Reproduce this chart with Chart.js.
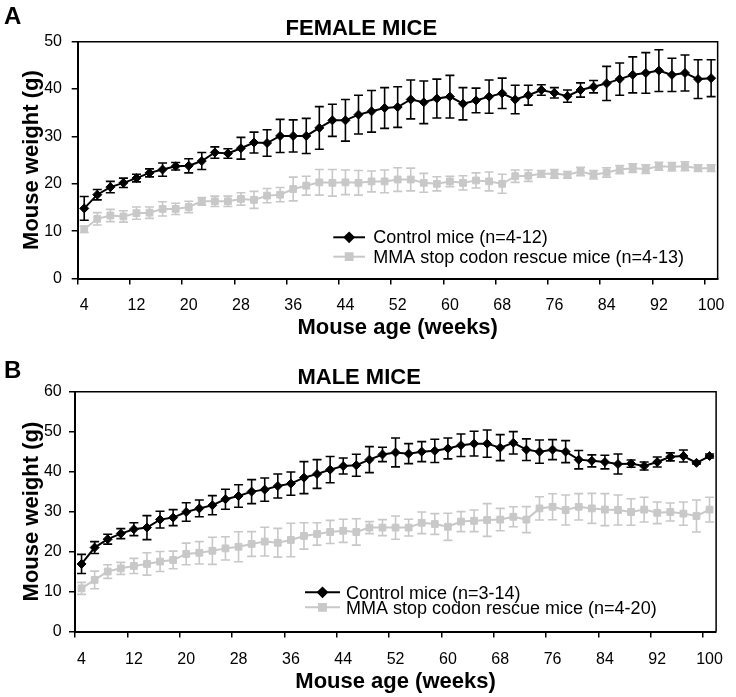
<!DOCTYPE html>
<html><head><meta charset="utf-8">
<script src="https://cdn.jsdelivr.net/npm/chart.js@4.4.1/dist/chart.umd.min.js"></script>
<style>
html,body{margin:0;padding:0;background:#fff;}
#wrap{position:relative;width:736px;height:697px;overflow:hidden;}
canvas{position:absolute;left:0;}
#chartA{top:0;}
#chartB{top:345px;}
</style></head><body>
<div id="wrap">
<canvas id="chartA" width="736" height="345"></canvas>
<canvas id="chartB" width="736" height="352"></canvas>
</div>
<script>
// ---------- data ----------
const weeks = [4,6,8,10,12,14,16,18,20,22,24,26,28,30,32,34,36,38,40,42,44,46,48,50,52,54,56,58,60,62,64,66,68,70,72,74,76,78,80,82,84,86,88,90,92,94,96,98,100];

const femaleControl = [14.8,17.7,19.3,20.2,21.2,22.3,23.0,23.7,23.8,24.8,26.6,26.4,27.5,28.7,28.6,30.1,30.1,30.1,31.8,33.4,33.4,34.6,35.3,36.0,36.2,37.8,37.2,38.0,38.4,36.9,37.6,38.4,39.1,37.8,38.7,39.8,39.2,38.5,39.8,40.5,41.2,42.1,43.0,43.4,43.9,43.0,43.4,42.1,42.3];
const femaleControlErr = [2.5,1.1,1.2,1.0,0.8,0.85,1.4,0.8,1.5,1.8,1.2,1.0,2.3,2.2,2.8,3.5,3.4,3.7,4.5,3.4,4.4,4.1,4.4,4.3,4.3,4.1,4.5,4.1,4.5,3.4,2.6,3.5,3.2,3.0,2.1,1.1,1.1,1.3,1.5,1.3,3.6,3.4,3.8,4.3,4.4,3.5,3.8,4.1,3.9];
const femaleRescue = [10.4,12.6,13.3,13.1,13.8,13.9,14.7,14.7,15.1,16.3,16.3,16.3,16.8,16.6,17.5,17.7,18.9,19.6,20.3,20.2,20.3,20.2,20.5,20.5,20.9,20.9,20.2,20.0,20.5,20.2,20.7,20.5,20.0,21.6,21.7,22.1,22.1,21.9,22.6,21.9,22.4,23.0,23.3,23.1,23.7,23.6,23.7,23.3,23.3];
const femaleRescueErr = [0.7,1.3,1.3,1.2,1.3,1.2,1.5,1.2,1.2,0.8,1.1,1.1,1.3,1.8,1.5,1.5,2.5,2.0,2.7,2.8,2.6,2.6,2.2,2.4,2.5,2.4,2.0,1.5,1.1,1.5,1.6,2.0,2.0,1.3,1.2,0.7,0.9,0.7,0.9,0.9,1.0,0.85,0.9,0.9,0.85,0.9,0.95,0.7,0.7];

const maleControl = [16.9,21.0,23.1,24.5,25.6,26.0,28.0,28.5,29.9,30.8,31.6,33.1,33.9,35.0,35.5,36.4,37.0,38.5,39.4,40.5,41.4,41.6,43.0,44.3,44.8,44.5,45.0,45.2,45.8,46.6,47.0,47.0,46.0,47.2,45.5,45.0,45.5,45.0,43.0,42.7,42.4,41.9,42.0,41.4,42.4,43.7,43.9,42.2,43.9];
const maleControlErr = [2.4,1.5,1.25,1.25,1.6,3.0,2.1,2.0,2.3,2.1,2.4,2.5,2.8,3.0,2.9,3.0,2.9,4.0,3.6,3.3,2.0,2.75,3.25,1.8,3.6,2.5,2.5,2.9,2.6,2.8,3.1,3.4,3.25,2.8,2.7,2.9,2.5,2.75,2.3,1.5,1.7,2.5,0.9,1.0,1.25,1.0,1.5,0.3,0.5];
const maleRescue = [10.8,12.9,15.0,15.8,16.4,16.9,17.5,17.9,19.4,19.7,20.2,20.8,21.2,21.9,22.5,22.2,22.9,23.9,24.4,24.9,25.2,24.9,26.0,26.0,26.0,26.0,27.2,26.9,26.2,27.5,27.7,27.9,28.0,28.7,28.0,30.8,31.2,30.4,31.2,30.8,30.5,30.4,29.9,30.5,29.7,29.9,29.5,28.9,30.5];
const maleRescueErr = [1.5,2.2,1.7,1.5,1.9,2.8,2.5,2.2,2.7,2.8,3.4,2.9,3.75,3.1,3.6,3.6,4.2,3.3,2.8,2.9,2.9,3.3,1.5,2.0,2.9,2.1,2.7,2.6,3.4,2.5,2.7,4.1,2.8,2.5,3.25,2.9,3.25,3.75,3.3,3.75,4.0,3.75,3.3,3.1,2.7,2.25,2.9,4.0,3.1];

const femaleLabels = ['Control mice (n=4-12)', 'MMA stop codon rescue mice (n=4-13)'];
const maleLabels = ['Control mice (n=3-14)', 'MMA stop codon rescue mice (n=4-20)'];
const xTitle = 'Mouse age (weeks)';
const yTitle = 'Mouse weight (g)';

// ---------- styles ----------
const FONT = "'Liberation Sans', Arial, Helvetica, sans-serif";
const BLACK = '#000000';
const GRAY = '#c8c8c8';

// ---------- plugins ----------
const errorBarPlugin = {
  id: 'errorBars',
  beforeDatasetDraw(chart, args, opts) {
    const ds = chart.data.datasets[args.index];
    if (!ds.errors) return;
    const ctx = chart.ctx, ys = chart.scales.y, cap = opts.cap || 4.5;
    ctx.save();
    ctx.strokeStyle = ds.borderColor;
    ctx.lineWidth = opts.lineWidth || 1.6;
    args.meta.data.forEach((pt, i) => {
      const e = ds.errors[i];
      if (e == null) return;
      const v = ds.data[i];
      const x = pt.x, yt = ys.getPixelForValue(v + e), yb = ys.getPixelForValue(v - e);
      ctx.beginPath();
      ctx.moveTo(x, yt); ctx.lineTo(x, yb);
      ctx.moveTo(x - cap, yt); ctx.lineTo(x + cap, yt);
      ctx.moveTo(x - cap, yb); ctx.lineTo(x + cap, yb);
      ctx.stroke();
    });
    ctx.restore();
  }
};

const framePlugin = {
  id: 'frame',
  afterDatasetsDraw(chart) {
    const {ctx, chartArea: a} = chart;
    ctx.save();
    ctx.strokeStyle = BLACK;
    ctx.lineWidth = 1.5;
    ctx.beginPath();
    ctx.moveTo(a.left, a.top); ctx.lineTo(a.right, a.top); ctx.lineTo(a.right, a.bottom);
    ctx.stroke();
    ctx.restore();
  }
};

const insideLegendPlugin = {
  id: 'insideLegend',
  afterDraw(chart, args, o) {
    const ctx = chart.ctx;
    ctx.save();
    chart.data.datasets.forEach((ds, i) => {
      const y = o.rows[i];
      ctx.strokeStyle = ds.borderColor;
      ctx.lineWidth = ds.borderWidth;
      ctx.beginPath(); ctx.moveTo(o.x0, y); ctx.lineTo(o.x1, y); ctx.stroke();
      ctx.fillStyle = ds.pointBackgroundColor;
      ctx.strokeStyle = ds.pointBorderColor;
      Chart.helpers.drawPoint(ctx, {pointStyle: ds.pointStyle, radius: ds.pointRadius, rotation: 0, borderWidth: 1}, (o.x0 + o.x1) / 2, y);
      ctx.fillStyle = BLACK;
      ctx.font = o.fontSize + 'px ' + FONT;
      ctx.textBaseline = 'middle';
      ctx.textAlign = 'left';
      ctx.fillText(ds.label, o.textX, y + o.textDy);
    });
    ctx.restore();
  }
};

const panelLetterPlugin = {
  id: 'panelLetter',
  afterDraw(chart, args, o) {
    const ctx = chart.ctx;
    ctx.save();
    ctx.fillStyle = BLACK;
    ctx.font = 'bold 24px ' + FONT;
    ctx.textBaseline = 'alphabetic';
    ctx.textAlign = 'left';
    ctx.fillText(o.text, o.x, o.y);
    ctx.restore();
  }
};

// ---------- chart factory ----------
function makePanel(id, p) {
  return new Chart(document.getElementById(id), {
    type: 'line',
    data: {
      labels: weeks,
      datasets: [
        { label: p.labels[0], data: p.ctrl, errors: p.ctrlErr,
          borderColor: BLACK, backgroundColor: BLACK, pointBackgroundColor: BLACK, pointBorderColor: BLACK,
          borderWidth: 2, pointStyle: 'rectRot', pointRadius: 4.5, pointBorderWidth: 1, tension: 0 },
        { label: p.labels[1], data: p.resc, errors: p.rescErr,
          borderColor: GRAY, backgroundColor: GRAY, pointBackgroundColor: GRAY, pointBorderColor: GRAY,
          borderWidth: 2, pointStyle: 'rect', pointRadius: 4.8, pointBorderWidth: 1, tension: 0 }
      ]
    },
    options: {
      responsive: false,
      animation: false,
      events: [],
      layout: { padding: { left: 0, right: p.padRight, top: 0, bottom: 0 } },
      plugins: {
        legend: { display: false },
        tooltip: { enabled: false },
        title: { display: true, text: p.title, color: BLACK,
                 font: { family: FONT, size: 22, weight: 'bold', lineHeight: 1 },
                 padding: { top: p.titleTop, bottom: p.titleBottom } },
        errorBars: { cap: 4.5, lineWidth: 1.6 },
        insideLegend: p.legend,
        panelLetter: p.letter
      },
      scales: {
        x: {
          type: 'category', offset: true,
          grid: { offset: true, drawOnChartArea: false, drawTicks: true, tickLength: 6, lineWidth: 1.5,
                  color: (c) => (c.index !== undefined && c.index % 4 === 0) ? BLACK : 'rgba(0,0,0,0)' },
          border: { display: true, color: BLACK, width: 2 },
          ticks: { autoSkip: false, maxRotation: 0, minRotation: 0, padding: p.xTickPad, color: BLACK,
                   font: { family: FONT, size: 16 },
                   callback: (v, i) => (i % 4 === 0 ? String(weeks[i]) : '') },
          title: { display: true, text: xTitle, color: BLACK,
                   font: { family: FONT, size: 22, weight: 'bold', lineHeight: 1.2 },
                   padding: { top: 0, bottom: p.xTitlePad } },
          afterFit: (s) => { s.height = p.xHeight; }
        },
        y: {
          min: 0, max: p.yMax,
          grid: { drawOnChartArea: false, drawTicks: true, tickLength: 6, lineWidth: 1.5, color: BLACK },
          border: { display: true, color: BLACK, width: 2 },
          ticks: { stepSize: 10, padding: p.yTickPad, color: BLACK, font: { family: FONT, size: 16 } },
          title: { display: true, text: yTitle, color: BLACK,
                   font: { family: FONT, size: 22, weight: 'bold', lineHeight: 1.2 },
                   padding: { top: p.yTitlePad, bottom: 0 } },
          afterFit: (s) => { s.width = p.yWidth; }
        }
      }
    },
    plugins: [errorBarPlugin, framePlugin, insideLegendPlugin, panelLetterPlugin]
  });
}

makePanel('chartA', {
  title: 'FEMALE MICE', labels: femaleLabels,
  ctrl: femaleControl, ctrlErr: femaleControlErr, resc: femaleRescue, rescErr: femaleRescueErr,
  yMax: 50, padRight: 13.4, titleTop: 18, titleBottom: 1.7,
  xHeight: 66.5, xTickPad: 11.4, xTitlePad: 3.8,
  yWidth: 77.7, yTickPad: 9.7, yTitlePad: 19,
  legend: { x0: 333.3, x1: 365, textX: 373.3, rows: [237.3, 256.7], textDy: 1, fontSize: 18 },
  letter: { text: 'A', x: 4, y: 24 }
});

makePanel('chartB', {
  title: 'MALE MICE', labels: maleLabels,
  ctrl: maleControl, ctrlErr: maleControlErr, resc: maleRescue, rescErr: maleRescueErr,
  yMax: 60, padRight: 17.7, titleTop: 22, titleBottom: 2.7,
  xHeight: 65.5, xTickPad: 12.9, xTitlePad: 1.8,
  yWidth: 75, yTickPad: 7.3, yTitlePad: 19,
  legend: { x0: 305, x1: 340, textX: 346, rows: [247.3, 262.3], textDy: 2, fontSize: 18 },
  letter: { text: 'B', x: 4, y: 33 }
});
</script>
</body></html>
